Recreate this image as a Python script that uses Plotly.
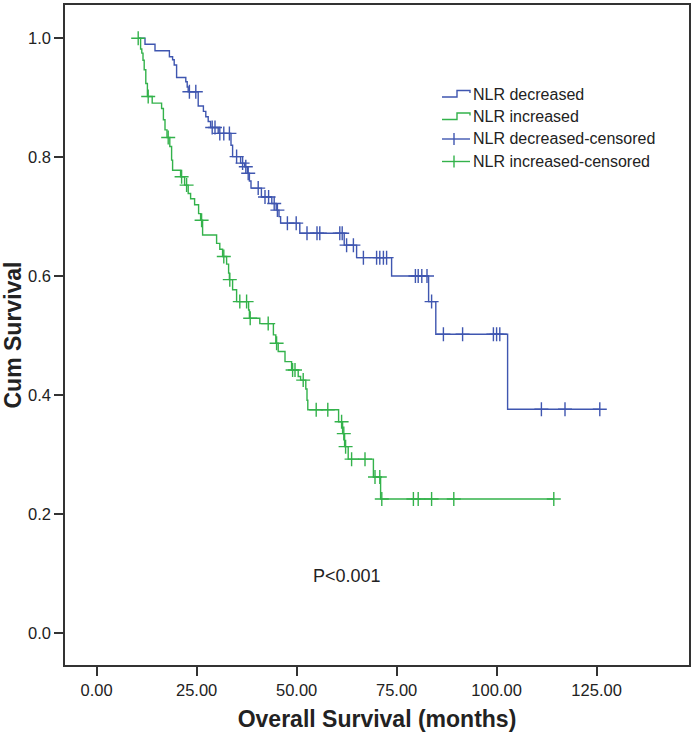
import numpy as np
import plotly.graph_objects as go

# ---- data ----
blue_t = [10.4, 12.1, 14.6, 18.2, 19.0, 19.4, 20.0, 22.3, 22.65, 22.9, 25.4, 26.7, 27.3, 27.9, 28.5,
          30.4, 33.6, 34.0, 36.0, 37.0, 37.7, 38.2, 38.6, 41.2, 43.8, 44.9, 45.6, 46.0, 50.8, 61.9,
          65.0, 73.75, 83.0, 84.8, 102.75, 125.8]
blue_s = [1.0, 0.990, 0.979, 0.969, 0.964, 0.955, 0.934, 0.927, 0.918, 0.910, 0.886, 0.877, 0.868, 0.860, 0.850,
          0.840, 0.820, 0.801, 0.790, 0.784, 0.773, 0.760, 0.748, 0.733, 0.722, 0.711, 0.700, 0.689, 0.672, 0.652,
          0.631, 0.600, 0.557, 0.502, 0.376, 0.376]
blue_cens = [23.2, 24.8, 28.9, 29.6, 30.8, 31.8, 33.2, 35.0, 36.5, 37.3, 37.9, 40.4, 42.1, 43.0, 44.4, 45.2,
             47.7, 49.9, 52.6, 55.1, 55.8, 60.8, 61.4, 62.5, 64.2, 66.7, 70.0, 70.8, 71.7, 72.5, 79.7, 80.4,
             81.3, 82.6, 83.75, 86.7, 91.5, 99.2, 100.0, 100.8, 111.2, 117.1, 125.8]

green_t = [10.4, 11.0, 11.3, 11.6, 11.9, 12.3, 12.7, 13.9, 16.25, 16.7, 17.1, 17.6, 18.3, 18.75, 19.0, 21.0,
           22.0, 22.9, 23.5, 24.5, 25.5, 26.0, 26.5, 30.0, 30.8, 31.5, 32.5, 33.0, 33.2, 34.0, 35.0, 38.0,
           38.2, 40.8, 44.2, 44.8, 45.4, 47.1, 48.75, 50.4, 51.0, 52.3, 52.6, 52.8, 60.5, 61.5, 62.0, 62.9,
           69.2, 71.0, 114.3]
green_s = [1.0, 0.982, 0.975, 0.963, 0.947, 0.924, 0.902, 0.891, 0.882, 0.863, 0.846, 0.833, 0.818, 0.795, 0.778, 0.767,
           0.753, 0.739, 0.730, 0.720, 0.705, 0.694, 0.669, 0.655, 0.645, 0.633, 0.620, 0.605, 0.594, 0.577, 0.557, 0.543,
           0.529, 0.520, 0.501, 0.487, 0.473, 0.456, 0.442, 0.431, 0.425, 0.410, 0.391, 0.375, 0.355, 0.335, 0.313, 0.292,
           0.262, 0.225, 0.225]
green_cens = [10.4, 12.9, 17.9, 21.25, 22.5, 26.25, 31.8, 33.3, 35.8, 37.5, 38.4, 42.9, 45.0, 49.0, 49.6, 51.65,
              54.9, 57.8, 61.25, 61.8, 62.25, 63.75, 67.1, 69.6, 70.8, 71.3, 79.2, 80.4, 83.75, 89.3, 114.3]

series_names = ["NLR decreased", "NLR increased", "NLR decreased-censored", "NLR increased-censored"]
x_ticks = [0, 25, 50, 75, 100, 125]
y_ticks = [0.0, 0.2, 0.4, 0.6, 0.8, 1.0]

BLUE = "#3f56b0"
GREEN = "#33b24b"
FONT = "Liberation Sans, Arial, sans-serif"
INK = "#222222"


def surv_at(times, surv, t):
    idx = np.searchsorted(np.array(times), np.array(t), side="right") - 1
    return np.array(surv)[idx]


fig = go.Figure()
fig.add_trace(go.Scatter(x=blue_t, y=blue_s, mode="lines", line=dict(shape="hv", color=BLUE, width=1.4),
                         name=series_names[0], showlegend=False, hoverinfo="skip"))
fig.add_trace(go.Scatter(x=green_t, y=green_s, mode="lines", line=dict(shape="hv", color=GREEN, width=1.4),
                         name=series_names[1], showlegend=False, hoverinfo="skip"))
fig.add_trace(go.Scatter(x=blue_cens, y=surv_at(blue_t, blue_s, blue_cens), mode="markers",
                         marker=dict(symbol="cross-thin", size=10, line=dict(color=BLUE, width=1.4)),
                         name=series_names[2], showlegend=False))
fig.add_trace(go.Scatter(x=green_cens, y=surv_at(green_t, green_s, green_cens), mode="markers",
                         marker=dict(symbol="cross-thin", size=10, line=dict(color=GREEN, width=1.4)),
                         name=series_names[3], showlegend=False))

# ---- layout geometry ----
W, H = 696, 742
ML, MR, MT, MB = 65, 7, 5, 77
PW, PH = W - ML - MR, H - MT - MB


def px(xp):
    return (xp - ML) / PW


def py(yp):
    return (H - MB - yp) / PH


# ---- custom legend (SPSS style) ----
shapes = []
annotations = []
rows = [94, 116.5, 139, 161.5]
colors = [BLUE, GREEN, BLUE, GREEN]
x0, xm, x1 = 442, 457, 470
for i, (yr, c) in enumerate(zip(rows, colors)):
    if i < 2:
        lo, hi = yr + 3, yr - 3.5
        path = (f"M {px(x0)} {py(lo)} L {px(xm)} {py(lo)} L {px(xm)} {py(hi)} "
                f"L {px(x1)} {py(hi)} L {px(x1)} {py(hi + 2.5)}")
        shapes.append(dict(type="path", path=path, xref="paper", yref="paper",
                           line=dict(color=c, width=1.4)))
    else:
        shapes.append(dict(type="line", xref="paper", yref="paper", x0=px(x0), x1=px(x1),
                           y0=py(yr), y1=py(yr), line=dict(color=c, width=1.4)))
        shapes.append(dict(type="line", xref="paper", yref="paper", x0=px(454), x1=px(454),
                           y0=py(yr - 6), y1=py(yr + 6), line=dict(color=c, width=1.4)))
    annotations.append(dict(text=series_names[i], xref="paper", yref="paper", x=px(471), y=py(yr),
                            xanchor="left", yanchor="middle", showarrow=False,
                            font=dict(family=FONT, size=16, color=INK)))

annotations.append(dict(text="P<0.001", xref="x", yref="y", x=62.5, y=0.095, showarrow=False,
                        xanchor="center", yanchor="middle", font=dict(family=FONT, size=18, color=INK)))

axis_common = dict(showline=True, linecolor="#333333", linewidth=1.5, mirror=True, showgrid=False,
                   zeroline=False, ticks="outside", ticklen=9, tickwidth=1.5, tickcolor="#333333",
                   tickfont=dict(family=FONT, size=16.5, color=INK))

fig.update_layout(
    width=W, height=H,
    margin=dict(l=ML, r=MR, t=MT, b=MB, autoexpand=False),
    paper_bgcolor="white", plot_bgcolor="white",
    showlegend=False,
    xaxis=dict(range=[-7.9, 148.1], tickvals=x_ticks, ticktext=[f"{v:.2f}" for v in x_ticks],
               title=dict(text="<b>Overall Survival (months)</b>", standoff=13,
                          font=dict(family=FONT, size=23, color=INK)),
               automargin=False, **axis_common),
    yaxis=dict(range=[-0.0543, 1.056], tickvals=y_ticks, ticktext=[f"{v:.1f}" for v in y_ticks],
               title=dict(text="<b>Cum Survival</b>", standoff=3,
                          font=dict(family=FONT, size=23, color=INK)),
               automargin=False, **axis_common),
    shapes=shapes, annotations=annotations,
)

fig.write_html("out.html", config={"displayModeBar": False},
               post_script="document.body.style.margin='0';document.body.style.overflow='hidden';")
